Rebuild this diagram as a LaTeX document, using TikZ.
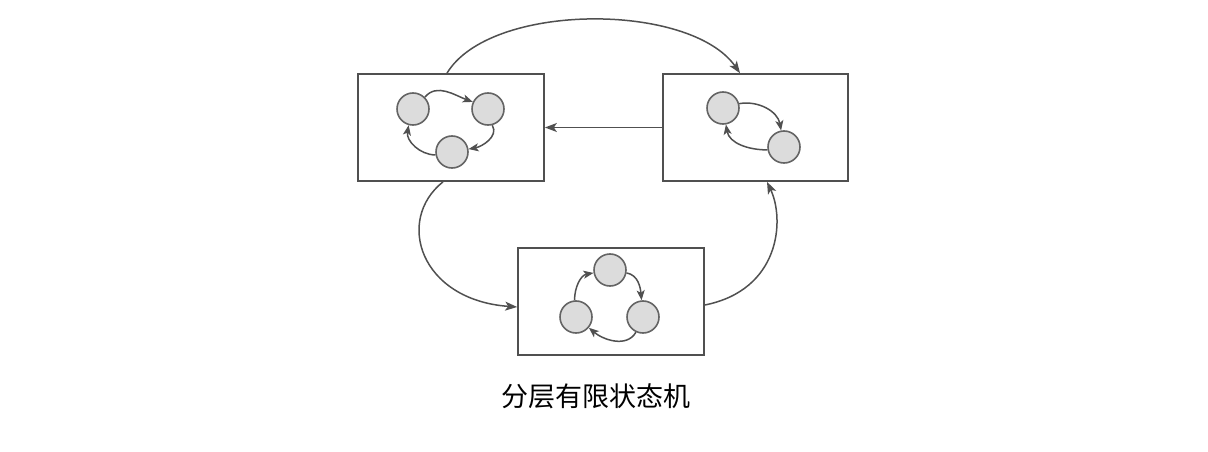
\documentclass[tikz,border=0pt]{standalone}
\usepackage{fontspec}
\newfontfamily\cjk{Noto Sans CJK SC}
\usetikzlibrary{arrows.meta}
\definecolor{lineC}{RGB}{80,80,80}
\definecolor{circF}{RGB}{220,220,220}
\definecolor{circD}{RGB}{100,100,100}
\begin{document}
\begin{tikzpicture}[x=1pt,y=-1pt,
  box/.style={draw=lineC,line width=1.7pt,rectangle,minimum width=186pt,minimum height=107pt,inner sep=0pt},
  st/.style={draw=circD,fill=circF,line width=1.6pt,circle,minimum size=32pt,inner sep=0pt},
  outarr/.style={draw=lineC,line width=1.5pt,-{Stealth[length=12pt,width=9pt,inset=3pt]}},
  inarr/.style={draw=lineC,line width=1.5pt,-{Stealth[length=10pt,width=8pt,inset=2.5pt]}}]
\useasboundingbox (0,0) rectangle (1208,452);
% boxes
\node[box] (lbox) at (451,127.5) {};
\node[box,minimum width=185pt] (rbox) at (755.5,127.5) {};
\node[box] (bbox) at (611,301.5) {};
% left box states
\node[st] (l1) at (413,109) {};
\node[st] (l2) at (488,109) {};
\node[st] (l3) at (452,152) {};
\draw[inarr] (l1.45) to[out=50,in=160] (l2.155);
\draw[inarr] (l2.-75) to[out=-60,in=10] (l3.10);
\draw[inarr] (l3.190) to[out=180,in=-100] (l1.-105);
% right box states
\node[st] (r1) at (723,108) {};
\node[st] (r2) at (784,147) {};
\draw[inarr] (r1.15) to[out=10,in=100] (r2.100);
\draw[inarr] (r2.190) to[out=180,in=-80] (r1.-80);
% bottom box states
\node[st] (bt) at (610,270) {};
\node[st] (bl) at (576,317) {};
\node[st] (br) at (643,317) {};
\draw[inarr] (bl.95) to[out=90,in=190] (bt.190);
\draw[inarr] (bt.-10) to[out=-10,in=95] (br.95);
\draw[inarr] (br.-115) to[out=-120,in=-40] (bl.-40);
% connectors between boxes
\draw[outarr] ([xshift=-4pt]lbox.north) .. controls (490,2) and (690,2) .. ([xshift=-15.5pt]rbox.north);
\draw[outarr] (rbox.west) -- (lbox.east);
\draw[outarr] ([xshift=-8pt]lbox.south) .. controls (395,220) and (420,300) .. ([yshift=-5.5pt]bbox.west);
\draw[outarr] ([yshift=-3.5pt]bbox.east) .. controls (780,290) and (785,220) .. ([xshift=11.5pt]rbox.south);
% caption
\node[font=\cjk\fontsize{27}{30}\selectfont,inner sep=0pt] (cap) at (596,396) {分层有限状态机};
\end{tikzpicture}
\end{document}
